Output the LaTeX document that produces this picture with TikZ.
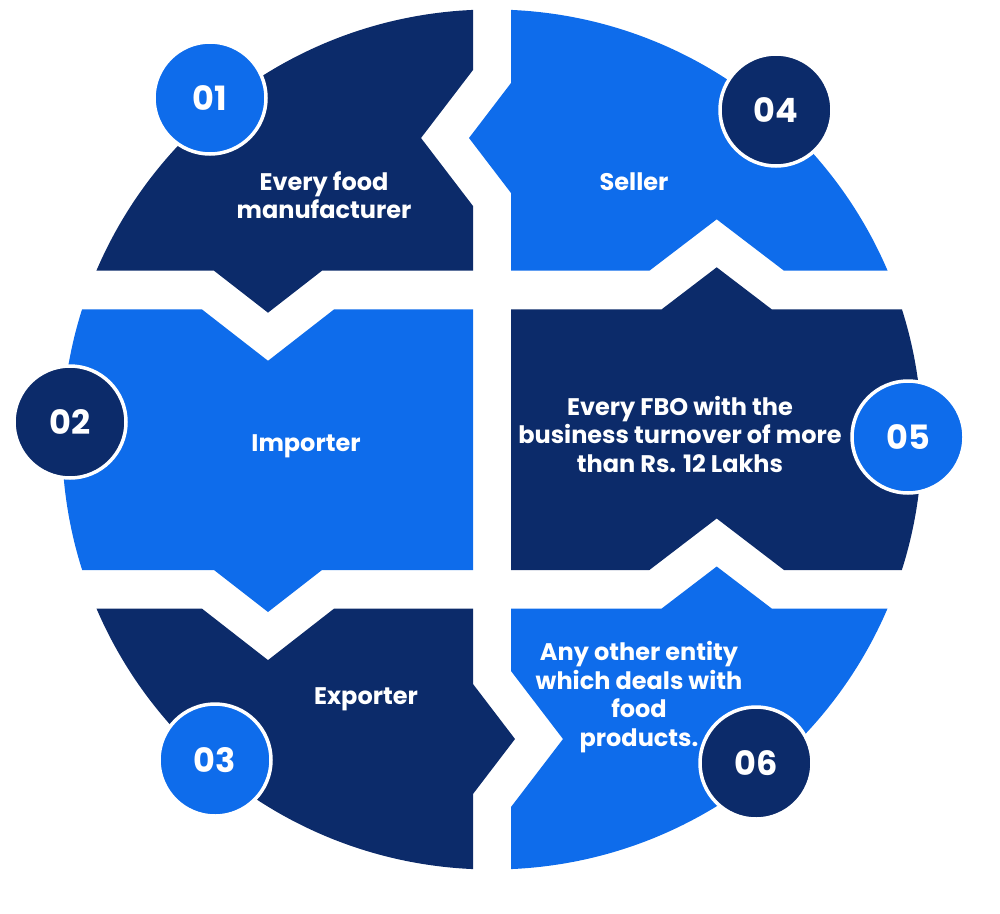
\documentclass[tikz,border=0pt]{standalone}
\usepackage{fontspec}
\setmainfont{Poppins}
\definecolor{navy}{RGB}{12,43,106}
\definecolor{brightblue}{RGB}{14,108,235}
\begin{document}
\begin{tikzpicture}[x=1pt,y=-1pt,
  numcirc/.style={circle, draw=white, line width=3.5pt, minimum size=112pt, inner sep=0pt, font=\bfseries\fontsize{33.5}{36}\selectfont, text=white},
  txt/.style={align=center, text=white, font=\bfseries\fontsize{24}{28.5}\selectfont, inner sep=0pt}]
\useasboundingbox (0,0) rectangle (1000,913);
\coordinate (C) at (492,439.5);
\begin{scope}
\clip (C) circle[radius=430pt];
% piece 01
\fill[navy] (0,0) -- (473,0) -- (473,70) -- (421,138) -- (473,206) -- (473,270.7) -- (322,270.7) -- (268,312.7) -- (214,270.7) -- (0,270.7) -- cycle;
% piece 02
\fill[brightblue] (0,309.3) -- (201.8,309.3) -- (268,360.8) -- (334.2,309.3) -- (473,309.3) -- (473,570) -- (322,570) -- (268,612) -- (214,570) -- (0,570) -- cycle;
% piece 03
\fill[navy] (0,608.5) -- (201.8,608.5) -- (268,660.1) -- (334.2,608.5) -- (473,608.5) -- (473,684) -- (515,739) -- (473,794) -- (473,913) -- (0,913) -- cycle;
% piece 04
\fill[brightblue] (511,0) -- (1000,0) -- (1000,270.7) -- (784,270.7) -- (716.7,219.3) -- (649.4,270.7) -- (511,270.7) -- (511,193) -- (469,138) -- (511,83) -- cycle;
% piece 05
\fill[navy] (511,309.3) -- (661.7,309.3) -- (716.7,267.3) -- (771.7,309.3) -- (1000,309.3) -- (1000,570) -- (784,570) -- (716.7,518.5) -- (649.4,570) -- (511,570) -- cycle;
% piece 06
\fill[brightblue] (511,608.5) -- (661.7,608.5) -- (716.7,566.5) -- (771.7,608.5) -- (1000,608.5) -- (1000,913) -- (511,913) -- (511,807) -- (563,739) -- (511,671) -- cycle;
\end{scope}
% texts
\node[txt] (t1) at (324,195) {Every food\\manufacturer};
\node[txt] (t4) at (634,182) {Seller};
\node[txt] (t2) at (306,446) {Importer};
\node[txt] (t5) at (680,434) {Every FBO with the\\business turnover of more\\than Rs. 12 Lakhs};
\node[txt] (t3) at (366,699) {Exporter};
\node[txt] (t6) at (639,697) {Any other entity\\which deals with\\food\\products.};
% number circles
\node[numcirc, fill=brightblue] (n1) at (210,98) {01};
\node[numcirc, fill=navy] (n4) at (776,110) {04};
\node[numcirc, fill=navy] (n2) at (70,422) {02};
\node[numcirc, fill=brightblue] (n5) at (908,437) {05};
\node[numcirc, fill=brightblue] (n3) at (215,760) {03};
\node[numcirc, fill=navy] (n6) at (756,763) {06};
\end{tikzpicture}
\end{document}
